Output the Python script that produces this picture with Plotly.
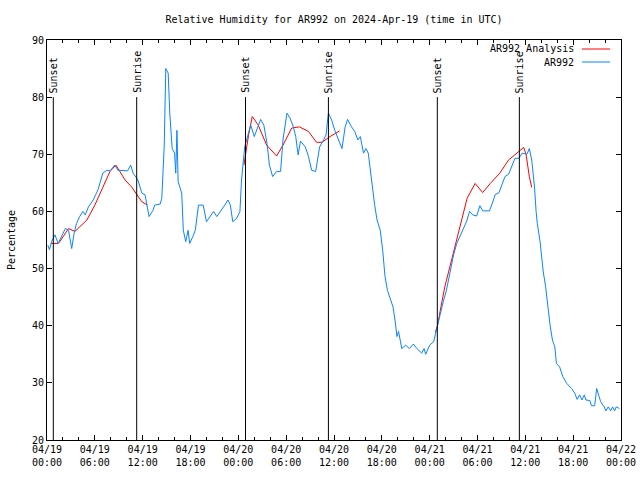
import pandas as pd
import plotly.graph_objects as go

# ---------------- data ----------------
base_time = "2024-04-19 00:00"

blue_name = "AR992"
blue_h = [0.1, 0.3, 0.6, 1.0, 1.4, 1.8, 2.3, 2.7, 3.1, 3.4, 3.7, 4.1, 4.5, 4.8, 5.2, 5.8,
          6.4, 7.0, 7.5, 7.9, 8.5, 8.9, 9.6, 10.1, 10.5, 10.8, 11.4, 11.9, 12.3, 12.5, 12.8,
          13.3, 13.5, 14.2, 14.4, 14.7, 14.9, 15.2, 15.4, 15.7, 16.0, 16.15, 16.3, 16.45,
          16.9, 17.1, 17.4, 17.7, 17.9, 18.3, 18.6, 19.0, 19.6, 20.0, 20.4, 20.9, 21.3,
          21.9, 22.3, 22.7, 23.0, 23.3, 23.8, 24.2, 24.4, 24.8, 25.25, 25.55, 26.0, 26.4,
          26.8, 27.2, 27.6, 27.9, 28.3, 28.8, 29.3, 29.6, 30.1, 30.5, 30.9, 31.2, 31.5,
          31.8, 32.4, 32.8, 33.2, 33.7, 34.0, 34.2, 34.7, 35.0, 35.3, 35.7, 36.1, 36.5,
          37.0, 37.4, 37.7, 38.2, 38.6, 39.0, 39.3, 39.7, 40.0, 40.3, 40.6, 40.9, 41.1,
          41.4, 41.8, 42.1, 42.4, 42.7, 43.0, 43.4, 43.65, 43.9, 44.1, 44.5, 45.0, 45.45,
          45.95, 46.4, 47.0, 47.3, 47.5, 48.0, 48.5, 48.8, 49.1, 49.4, 49.7, 50.1, 50.55,
          51.0, 51.4, 51.8, 52.2, 52.65, 53.0, 53.4, 53.9, 54.3, 54.65, 55.5, 56.0, 56.2,
          56.7, 57.45, 57.9, 58.3, 58.7, 59.2, 59.6, 60.2, 60.5, 60.8, 61.15, 61.35, 61.5,
          61.85, 62.05, 62.25, 62.55, 62.8, 63.1, 63.4, 63.7, 63.9, 64.3, 64.7, 65.2, 65.8,
          66.2, 66.5, 66.8, 67.1, 67.4, 67.6, 68.1, 68.3, 68.7, 68.95, 69.15, 69.45, 69.9,
          70.1, 70.4, 70.7, 70.95, 71.2, 71.4, 71.8]
blue_v = [54.1, 53.3, 54.8, 55.9, 54.4, 55.5, 57.0, 56.7, 53.5, 56.2, 57.9, 59.1, 60.0, 59.4,
          60.8, 62.0, 63.8, 66.7, 67.2, 67.1, 68.1, 67.2, 67.1, 67.1, 68.1, 66.7, 65.5, 63.2,
          62.9, 61.4, 59.1, 60.2, 61.1, 61.3, 62.3, 71.3, 85.0, 84.2, 77.2, 71.0, 70.2, 66.7,
          74.2, 65.2, 63.2, 56.7, 54.7, 56.7, 54.4, 55.6, 56.7, 61.1, 61.1, 58.2, 59.1, 60.0,
          59.1, 60.2, 61.1, 62.0, 61.1, 58.2, 58.8, 60.0, 65.5, 71.3, 73.7, 75.1, 73.1, 74.6,
          76.1, 75.1, 71.9, 68.1, 66.1, 67.0, 67.0, 72.5, 77.2, 76.3, 74.8, 73.1, 69.9, 72.3,
          71.3, 69.6, 67.2, 67.0, 69.6, 71.3, 72.5, 73.4, 77.2, 76.0, 74.2, 72.8, 71.0, 74.8,
          76.1, 74.8, 74.0, 72.5, 73.1, 70.2, 71.0, 70.2, 66.7, 63.2, 61.1, 58.5, 56.7, 53.3,
          48.6, 46.2, 44.8, 43.3, 41.0, 38.1, 39.0, 36.0, 36.6, 36.0, 36.8, 36.0, 35.2, 36.0,
          35.0, 36.6, 37.2, 39.0, 40.4, 42.2, 44.2, 46.2, 49.4, 52.4, 54.4, 55.6, 56.7, 58.3,
          60.0, 59.4, 59.2, 61.0, 60.1, 60.1, 62.0, 62.9, 63.3, 66.1, 66.5, 67.8, 69.3, 69.3,
          70.2, 70.0, 71.0, 69.0, 64.3, 60.0, 57.9, 54.7, 52.1, 49.4, 46.8, 43.3, 40.1, 37.5,
          36.3, 33.4, 32.8, 31.1, 29.9, 29.0, 28.2, 27.1, 27.9, 27.0, 27.9, 27.0, 26.9, 26.0,
          26.0, 29.0, 28.2, 26.7, 25.8, 25.1, 25.8, 25.1, 25.8, 25.1, 25.8, 25.5]

red_name = "AR992 Analysis"
red_h = [0.5, 1.4, 1.6, 2.7, 3.5, 5.0, 6.0, 7.06, 7.9, 8.65, 9.15, 9.8, 10.6, 11.25, 11.9, 12.6,
         18.0,
         24.7, 24.9, 25.3, 25.75, 26.5, 27.55, 28.8, 29.6, 30.7, 31.65, 32.8, 33.8, 34.5, 35.5, 36.7,
         42.0,
         48.7, 49.0, 49.3, 49.9, 50.8, 51.6, 52.2, 52.7, 53.7, 54.65, 55.6, 56.8, 57.9, 58.7,
         59.8, 60.1, 60.5, 60.8]
red_v = [54.4, 54.4, 54.7, 57.0, 56.5, 58.5, 61.1, 64.3, 67.0, 68.1, 67.0, 65.5, 64.3, 62.9, 61.7, 61.1,
         None,
         68.1, 70.2, 73.5, 76.6, 75.1, 71.6, 69.7, 71.6, 74.6, 74.8, 74.0, 72.1, 72.1, 73.1, 74.1,
         None,
         38.8, 40.1, 42.45, 46.8, 51.8, 56.2, 59.7, 62.3, 64.9, 63.3, 64.9, 66.7, 69.0, 69.9,
         71.2, 69.9, 66.1, 64.2]

event_h = [0.79, 11.25, 24.9, 35.3, 48.96, 59.25]
event_labels = ["Sunset", "Sunrise", "Sunset", "Sunrise", "Sunset", "Sunrise"]
event_top = 80

x_span_hours = 72
y_range = [20, 90]

# ---------------- figure ----------------
base = pd.Timestamp(base_time)


def to_time(hours):
    return [base + pd.Timedelta(hours=h) for h in hours]


FONT = "DejaVu Sans Mono"
RED = "#ff0000"
BLUE = "#0a84ff"

fig = go.Figure()
fig.add_trace(go.Scatter(x=to_time(red_h), y=red_v, mode="lines", name=red_name,
                         line=dict(color=RED, width=1), connectgaps=False, showlegend=False))
fig.add_trace(go.Scatter(x=to_time(blue_h), y=blue_v, mode="lines", name=blue_name,
                         line=dict(color=BLUE, width=1), showlegend=False))

shapes = []
annotations = []
for h, lab in zip(event_h, event_labels):
    t = base + pd.Timedelta(hours=h)
    shapes.append(dict(type="line", xref="x", yref="y", x0=t, x1=t, y0=y_range[0], y1=event_top,
                       line=dict(color="black", width=1)))
    annotations.append(dict(x=t, y=event_top, xref="x", yref="y", text=lab, textangle=-90,
                            showarrow=False, xanchor="center", yanchor="bottom", yshift=2,
                            font=dict(family=FONT, size=10, color="black")))

# manual gnuplot-style legend (text left of sample)
legend_items = [(red_name, RED, 0.9775), (blue_name, BLUE, 0.945)]
for name, col, yy in legend_items:
    shapes.append(dict(type="line", xref="paper", yref="paper", x0=0.932, x1=0.981, y0=yy, y1=yy,
                       line=dict(color=col, width=1)))
    annotations.append(dict(x=0.921, y=yy, xref="paper", yref="paper", text=name, showarrow=False,
                            xanchor="right", yanchor="middle",
                            font=dict(family=FONT, size=10, color="black")))

fig.update_layout(
    width=640, height=480,
    margin=dict(l=47, r=19, t=40, b=40, autoexpand=False),
    paper_bgcolor="white", plot_bgcolor="white",
    font=dict(family=FONT, size=10, color="black"),
    title=dict(text="Relative Humidity for AR992 on 2024-Apr-19 (time in UTC)",
               x=0.5, xref="paper", y=1 - 19 / 480, yref="container",
               xanchor="center", yanchor="middle",
               font=dict(family=FONT, size=10, color="black")),
    shapes=shapes, annotations=annotations,
    showlegend=False,
)
fig.update_xaxes(
    type="date",
    range=[base, base + pd.Timedelta(hours=x_span_hours)],
    tick0=base, dtick=6 * 3600 * 1000,
    tickformat="%m/%d<br>%H:%M",
    ticks="inside", ticklen=5, tickcolor="black",
    showline=True, linecolor="black", linewidth=1, mirror="ticks",
    showgrid=False, zeroline=False,
    minor=dict(dtick=2 * 3600 * 1000, ticks="inside", ticklen=3, tickcolor="black", showgrid=False),
)
fig.update_yaxes(
    range=y_range, dtick=10, tick0=20,
    ticks="inside", ticklen=5, tickcolor="black",
    showline=True, linecolor="black", linewidth=1, mirror="ticks",
    showgrid=False, zeroline=False,
    title=dict(text="Percentage", standoff=14, font=dict(family=FONT, size=10)),
)

fig.write_html("out.html")
